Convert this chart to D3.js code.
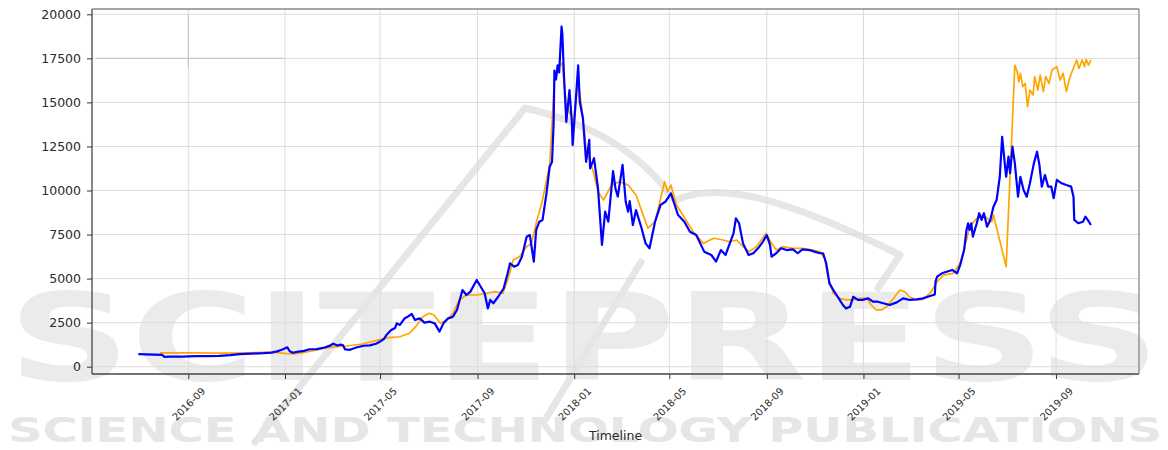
<!DOCTYPE html>
<html>
<head>
<meta charset="utf-8">
<script src="https://cdn.jsdelivr.net/npm/d3@7"></script>
<style>
  html, body { margin: 0; padding: 0; background: #ffffff; }
  svg { display: block; }
  text { font-family: "DejaVu Sans", sans-serif; }
</style>
</head>
<body>
<svg id="chart" width="1168" height="450"></svg>
<script>
// ---------------- DATA ----------------
const actualDates = ["2016-06-30","2016-07-10","2016-07-20","2016-07-30","2016-08-02","2016-08-10","2016-08-25","2016-09-10","2016-09-25","2016-10-10","2016-10-24","2016-11-05","2016-11-20","2016-12-05","2016-12-15","2016-12-22","2016-12-28","2017-01-04","2017-01-07","2017-01-11","2017-01-16","2017-01-25","2017-02-01","2017-02-10","2017-02-20","2017-02-26","2017-03-03","2017-03-08","2017-03-12","2017-03-15","2017-03-18","2017-03-24","2017-04-01","2017-04-10","2017-04-18","2017-04-26","2017-05-02","2017-05-06","2017-05-09","2017-05-15","2017-05-20","2017-05-22","2017-05-26","2017-06-01","2017-06-05","2017-06-10","2017-06-14","2017-06-20","2017-06-26","2017-07-03","2017-07-09","2017-07-15","2017-07-20","2017-07-26","2017-08-01","2017-08-06","2017-08-13","2017-08-18","2017-08-23","2017-08-31","2017-09-05","2017-09-10","2017-09-14","2017-09-17","2017-09-21","2017-09-27","2017-10-04","2017-10-09","2017-10-12","2017-10-17","2017-10-22","2017-10-27","2017-11-02","2017-11-06","2017-11-11","2017-11-14","2017-11-18","2017-11-22","2017-11-27","2017-12-01","2017-12-04","2017-12-06","2017-12-07","2017-12-09","2017-12-11","2017-12-13","2017-12-16","2017-12-17","2017-12-19","2017-12-22","2017-12-26","2017-12-29","2017-12-30","2018-01-02","2018-01-06","2018-01-08","2018-01-12","2018-01-16","2018-01-20","2018-01-21","2018-01-26","2018-01-31","2018-02-05","2018-02-09","2018-02-13","2018-02-19","2018-02-22","2018-02-25","2018-03-03","2018-03-07","2018-03-10","2018-03-12","2018-03-16","2018-03-20","2018-03-27","2018-04-01","2018-04-06","2018-04-13","2018-04-20","2018-04-26","2018-05-03","2018-05-12","2018-05-20","2018-05-27","2018-06-04","2018-06-14","2018-06-23","2018-06-29","2018-07-05","2018-07-11","2018-07-17","2018-07-21","2018-07-24","2018-07-28","2018-08-02","2018-08-09","2018-08-15","2018-08-21","2018-08-27","2018-09-01","2018-09-05","2018-09-07","2018-09-13","2018-09-19","2018-09-26","2018-10-04","2018-10-10","2018-10-16","2018-10-25","2018-10-31","2018-11-07","2018-11-11","2018-11-15","2018-11-19","2018-11-24","2018-11-28","2018-12-02","2018-12-06","2018-12-10","2018-12-15","2018-12-19","2018-12-25","2018-12-31","2019-01-07","2019-01-13","2019-01-19","2019-01-26","2019-02-03","2019-02-12","2019-02-20","2019-02-28","2019-03-09","2019-03-17","2019-03-26","2019-04-01","2019-04-02","2019-04-04","2019-04-10","2019-04-16","2019-04-23","2019-04-29","2019-05-03","2019-05-08","2019-05-11","2019-05-13","2019-05-15","2019-05-17","2019-05-19","2019-05-24","2019-05-27","2019-05-30","2019-06-02","2019-06-06","2019-06-10","2019-06-14","2019-06-18","2019-06-22","2019-06-25","2019-06-27","2019-06-30","2019-07-03","2019-07-05","2019-07-08","2019-07-11","2019-07-15","2019-07-18","2019-07-22","2019-07-26","2019-07-30","2019-08-04","2019-08-08","2019-08-11","2019-08-14","2019-08-18","2019-08-22","2019-08-26","2019-08-29","2019-09-02","2019-09-08","2019-09-14","2019-09-20","2019-09-23","2019-09-24","2019-09-29","2019-10-05","2019-10-08","2019-10-11","2019-10-15"];
const actualPrices = [710,700,690,670,560,575,575,600,605,620,660,710,740,770,800,870,960,1100,880,790,840,900,990,1000,1090,1180,1300,1200,1250,1230,980,960,1090,1190,1210,1300,1450,1580,1800,2080,2200,2460,2370,2745,2840,2990,2650,2745,2500,2555,2460,1990,2460,2745,2840,3220,4350,4070,4260,4920,4540,4170,3310,3790,3600,3970,4450,5300,5870,5680,5770,6240,7380,7470,5960,7760,8230,8330,9840,11350,11630,13800,16800,16300,17100,16700,19300,18900,16550,13900,15700,13900,12580,14500,17100,15040,14100,11630,12870,11260,11830,10130,6910,8800,8230,11100,10130,9650,11450,9360,8800,9400,8040,8890,7860,7000,6720,8230,9180,9360,9840,8610,8230,7660,7470,6530,6340,5960,6620,6340,7090,7570,8420,8140,7000,6340,6440,6720,7090,7470,6910,6250,6440,6720,6620,6660,6440,6660,6620,6530,6440,6440,5870,4730,4350,4070,3790,3500,3310,3400,3970,3790,3790,3880,3690,3690,3600,3500,3650,3880,3790,3820,3880,4010,4100,4850,5110,5300,5390,5490,5300,5770,6620,7760,8140,7760,8140,7380,8140,8710,8330,8710,7950,8330,9080,9460,10780,13050,12110,10780,11920,10980,12490,11540,9650,10780,10030,9650,10410,11540,12200,11450,10220,10880,10220,10220,9560,10600,10410,10310,10220,9650,8330,8140,8230,8510,8330,8040];

const predictedDates = ["2016-07-27","2016-08-15","2016-09-11","2016-10-01","2016-10-23","2016-11-15","2016-12-04","2016-12-20","2017-01-03","2017-01-12","2017-01-24","2017-02-10","2017-02-26","2017-03-19","2017-04-09","2017-04-26","2017-05-11","2017-05-26","2017-06-07","2017-06-15","2017-06-24","2017-07-02","2017-07-08","2017-07-16","2017-07-24","2017-08-01","2017-08-09","2017-08-18","2017-08-31","2017-09-13","2017-09-23","2017-10-03","2017-10-09","2017-10-16","2017-10-24","2017-11-02","2017-11-08","2017-11-14","2017-11-22","2017-12-01","2017-12-07","2017-12-14","2017-12-17","2017-12-22","2017-12-31","2018-01-06","2018-01-10","2018-01-16","2018-01-25","2018-01-31","2018-02-07","2018-02-17","2018-02-27","2018-03-10","2018-03-20","2018-03-29","2018-04-04","2018-04-13","2018-04-19","2018-04-25","2018-04-29","2018-05-03","2018-05-10","2018-05-18","2018-05-31","2018-06-13","2018-06-17","2018-06-26","2018-07-08","2018-07-16","2018-07-25","2018-08-02","2018-08-10","2018-08-19","2018-08-25","2018-08-31","2018-09-07","2018-09-13","2018-09-21","2018-10-04","2018-10-16","2018-10-29","2018-11-07","2018-11-13","2018-11-17","2018-11-24","2018-12-02","2018-12-10","2018-12-19","2018-12-27","2019-01-05","2019-01-11","2019-01-17","2019-01-24","2019-01-30","2019-02-08","2019-02-16","2019-02-22","2019-02-28","2019-03-09","2019-03-17","2019-03-26","2019-04-04","2019-04-12","2019-04-24","2019-05-03","2019-05-11","2019-05-15","2019-05-24","2019-05-30","2019-06-06","2019-06-12","2019-06-14","2019-06-30","2019-07-11","2019-07-14","2019-07-16","2019-07-18","2019-07-21","2019-07-24","2019-07-27","2019-07-30","2019-08-03","2019-08-05","2019-08-09","2019-08-12","2019-08-16","2019-08-19","2019-08-23","2019-08-27","2019-09-02","2019-09-06","2019-09-10","2019-09-14","2019-09-18","2019-09-22","2019-09-27","2019-09-30","2019-10-04","2019-10-07","2019-10-09","2019-10-12","2019-10-15"];
const predictedPrices = [780,790,780,770,770,790,815,810,740,720,795,950,1100,1175,1290,1480,1650,1700,1895,2270,2840,3030,2935,2460,2650,3030,3790,4070,4070,4170,4260,4170,4920,6060,6240,6810,7000,8140,9460,11450,16170,17120,17220,14850,13900,16170,14850,12390,11070,9930,9460,10310,10500,10310,9740,8610,7860,8230,9360,10500,9930,10310,9180,8610,7660,7000,7090,7290,7190,7090,7190,6810,6530,6810,7190,7570,7000,6620,6810,6720,6720,6620,6530,6150,5110,4170,3880,3790,3790,3880,3880,3500,3220,3220,3400,3880,4350,4260,3970,3790,3820,4170,4820,5200,5300,5870,7190,7950,8420,8610,8420,8230,8610,5680,17120,16740,16170,16650,15890,16080,14760,15700,15420,16460,15700,16550,15610,16460,16080,16840,17030,16270,16650,15610,16360,16840,17410,16930,17410,17030,17440,17120,17410];

const xTickLabels = ["2016-09","2017-01","2017-05","2017-09","2018-01","2018-05","2018-09","2019-01","2019-05","2019-09"];
const yTickValues = [0,2500,5000,7500,10000,12500,15000,17500,20000];
const xDomain = ["2016-05-02T12","2019-12-14T16"];
const yDomain = [-414, 20301];
const xLabel = "Timeline";
const watermarkBig = "SCITEPRESS";
const watermarkSmall = "SCIENCE AND TECHNOLOGY PUBLICATIONS";

// ---------------- CHART ----------------
const W = 1168, H = 450;
const margin = {top: 9, right: 29, bottom: 76, left: 92};
const iw = W - margin.left - margin.right;
const ih = H - margin.top - margin.bottom;

const parseDay = d3.timeParse("%Y-%m-%d");
const parseMonth = d3.timeParse("%Y-%m");
const parseHour = d3.timeParse("%Y-%m-%dT%H");

const actual = actualDates.map((d, i) => ({date: parseDay(d), value: actualPrices[i]}));
const predicted = predictedDates.map((d, i) => ({date: parseDay(d), value: predictedPrices[i]}));

const x = d3.scaleTime().domain(xDomain.map(parseHour)).range([0, iw]);
const y = d3.scaleLinear().domain(yDomain).range([ih, 0]);

const svg = d3.select("#chart");

// watermark (behind chart)
const wm = svg.append("g").attr("class", "watermark");
wm.append("text")
  .attr("x", 8).attr("y", 380)
  .attr("textLength", 1152).attr("lengthAdjust", "spacingAndGlyphs")
  .style("font-size", "121px").style("font-weight", "bold")
  .attr("fill", "#ebebeb")
  .text(watermarkBig);
wm.append("text")
  .attr("x", 8).attr("y", 442)
  .attr("textLength", 1154).attr("lengthAdjust", "spacingAndGlyphs")
  .style("font-size", "33px").style("font-weight", "bold")
  .attr("fill", "#e6e6e6")
  .text(watermarkSmall);
wm.append("path")
  .attr("d", "M255,442 L525,108 C585,122 640,150 672,198 M676,200 C720,180 790,200 900,255 L878,288 M641,262 L545,420")
  .attr("fill", "none").attr("stroke", "#e6e6e6").attr("stroke-width", 7)
  .attr("stroke-linecap", "round").attr("stroke-linejoin", "round");

const g = svg.append("g").attr("transform", `translate(${margin.left},${margin.top})`);

// grid
const xTicks = xTickLabels.map(parseMonth);
g.append("g").attr("class", "grid")
  .selectAll("line").data(xTicks).join("line")
  .attr("x1", d => x(d)).attr("x2", d => x(d))
  .attr("y1", 0).attr("y2", ih)
  .attr("stroke", "#dcdcdc").attr("stroke-width", 1);
g.append("g").attr("class", "grid")
  .selectAll("line").data(yTickValues).join("line")
  .attr("x1", 0).attr("x2", iw)
  .attr("y1", d => y(d)).attr("y2", d => y(d))
  .attr("stroke", "#dcdcdc").attr("stroke-width", 1);

// faint remnant lines near top-left
g.append("line")
  .attr("x1", x(xTicks[0])).attr("x2", x(xTicks[0]))
  .attr("y1", y(20000)).attr("y2", y(17000))
  .attr("stroke", "#c4c4c4").attr("stroke-width", 1);
g.append("line")
  .attr("x1", 4).attr("x2", x(parseDay("2016-12-30")))
  .attr("y1", y(17500)).attr("y2", y(17500))
  .attr("stroke", "#c8c8c8").attr("stroke-width", 1.2);

// lines
const line = d3.line().x(d => x(d.date)).y(d => y(d.value));
g.append("path").datum(predicted)
  .attr("fill", "none").attr("stroke", "orange").attr("stroke-width", 1.7)
  .attr("stroke-linejoin", "round").attr("d", line);
g.append("path").datum(actual)
  .attr("fill", "none").attr("stroke", "blue").attr("stroke-width", 2.2)
  .attr("stroke-linejoin", "round").attr("d", line);

// axes
const yAxis = d3.axisLeft(y).tickValues(yTickValues).tickSize(5).tickPadding(6).tickFormat(d3.format("d"));
const gy = g.append("g").call(yAxis);
gy.select(".domain").remove();
gy.selectAll(".tick line").attr("stroke", "#333");
gy.selectAll(".tick text").style("font-size", "12.5px").attr("fill", "#2a2a2a");

const xAxis = d3.axisBottom(x).tickValues(xTicks).tickSize(5).tickFormat(d3.timeFormat("%Y-%m"));
const gx = g.append("g").attr("transform", `translate(0,${ih})`).call(xAxis);
gx.select(".domain").remove();
gx.selectAll(".tick line").attr("stroke", "#333");
gx.selectAll(".tick text")
  .style("font-size", "10px").attr("fill", "#2a2a2a")
  .attr("text-anchor", "middle").attr("dy", null)
  .attr("y", null)
  .attr("dominant-baseline", "central")
  .attr("transform", "translate(0,30) rotate(-45)");

// spines
g.append("line").attr("x1", 0).attr("x2", 0).attr("y1", 0).attr("y2", ih).attr("stroke", "#444").attr("stroke-width", 1.3);
g.append("line").attr("x1", 0).attr("x2", iw).attr("y1", ih).attr("y2", ih).attr("stroke", "#444").attr("stroke-width", 1.3);
g.append("line").attr("x1", 0).attr("x2", iw).attr("y1", 0).attr("y2", 0).attr("stroke", "#888").attr("stroke-width", 1.6);
g.append("line").attr("x1", iw).attr("x2", iw).attr("y1", 0).attr("y2", ih).attr("stroke", "#888").attr("stroke-width", 1.3);

// x label
svg.append("text")
  .attr("x", margin.left + iw / 2).attr("y", 440)
  .attr("text-anchor", "middle")
  .style("font-size", "12.5px").attr("fill", "#2a2a2a")
  .text(xLabel);
</script>
</body>
</html>
